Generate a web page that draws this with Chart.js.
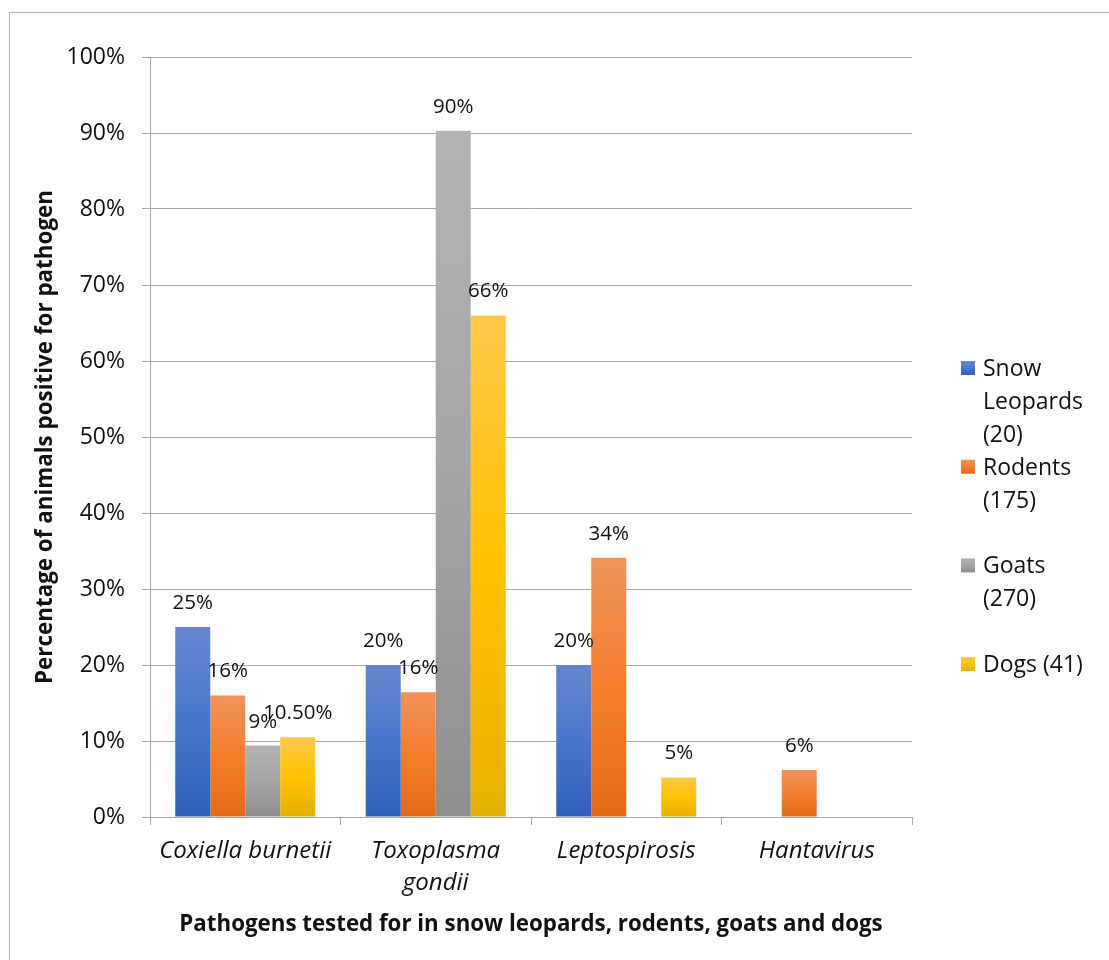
<!DOCTYPE html>
<html>
<head>
<meta charset="utf-8">
<script src="https://cdn.jsdelivr.net/npm/chart.js@4.4.1/dist/chart.umd.min.js"></script>
<style>
  html, body { margin: 0; padding: 0; background: #fff; }
  #wrap { width: 1109px; height: 960px; position: relative; }
</style>
</head>
<body>
<div id="wrap"><canvas id="pathogenChart" width="1109" height="960"></canvas></div>
<script>
// chart data
const categories = ['Coxiella burnetii', ['Toxoplasma', 'gondii'], 'Leptospirosis', 'Hantavirus'];
const seriesNames = ['Snow Leopards (20)', 'Rodents (175)', 'Goats (270)', 'Dogs (41)'];
const legendLines = [['Snow', 'Leopards', '(20)'], ['Rodents', '(175)'], ['Goats', '(270)'], ['Dogs (41)']];

const snowLeopards = [25, 20, 20, null];
const rodents = [16, 16.4, 34.1, 6.2];
const goats = [9.4, 90.3, null, null];
const dogs = [10.5, 66, 5.2, null];

const snowLeopardLabels = ['25%', '20%', '20%', null];
const rodentLabels = ['16%', '16%', '34%', '6%'];
const goatLabels = ['9%', '90%', null, null];
const dogLabels = ['10.50%', '66%', '5%', null];

const yTicks = [0, 10, 20, 30, 40, 50, 60, 70, 80, 90, 100];

// gradient stops (top -> bottom) for each series
const blueStops = ['#6687cf', '#4a77cc', '#2f5fbc'];
const orangeStops = ['#f0935e', '#f47e2c', '#e3691a'];
const grayStops = ['#b3b3b3', '#a5a5a5', '#8e8e8e'];
const goldStops = ['#ffc94a', '#ffc200', '#e4b000'];

const FONT = "'Open Sans', 'Noto Sans', sans-serif";
const GRID = '#a6a6a6';
const TEXT = '#111111';

function barGradient(c, stops) {
    const chart = c.chart;
    const v = c.raw;
    if (!chart.chartArea || v === null || v === undefined) return stops[1];
    const y = chart.scales.y;
    const top = y.getPixelForValue(v);
    const bottom = y.getPixelForValue(0);
    if (!isFinite(top) || bottom - top < 1) return stops[1];
    const g = chart.ctx.createLinearGradient(0, top, 0, bottom);
    g.addColorStop(0, stops[0]);
    g.addColorStop(0.5, stops[1]);
    g.addColorStop(1, stops[2]);
    return g;
}

function makeDataset(label, data, stops, valueLabels, legend) {
    return {
        label: label,
        data: data,
        backgroundColor: (c) => barGradient(c, stops),
        borderWidth: 0,
        valueLabels: valueLabels,
        legendLines: legend,
        legendColor: stops
    };
}

// frame round the whole picture
const framePlugin = {
    id: 'frame',
    beforeDraw(chart) {
        const ctx = chart.ctx;
        ctx.save();
        ctx.fillStyle = '#fff';
        ctx.fillRect(0, 0, chart.width, chart.height);
        ctx.strokeStyle = '#b4b4b4';
        ctx.lineWidth = 1;
        ctx.strokeRect(9.5, 12.5, chart.width + 20, chart.height + 20);
        ctx.restore();
    }
};

// value labels above bars
const valueLabelPlugin = {
    id: 'valueLabels',
    afterDatasetsDraw(chart) {
        const ctx = chart.ctx;
        ctx.save();
        ctx.font = '20.5px ' + FONT;
        ctx.fillStyle = TEXT;
        ctx.textAlign = 'center';
        ctx.textBaseline = 'alphabetic';
        chart.data.datasets.forEach((ds, i) => {
            const meta = chart.getDatasetMeta(i);
            meta.data.forEach((bar, j) => {
                const txt = ds.valueLabels[j];
                if (!txt) return;
                ctx.fillText(txt, bar.x, bar.y - 18);
            });
        });
        ctx.restore();
    }
};

// legend on the right with wrapped labels
const sideLegendPlugin = {
    id: 'sideLegend',
    afterDraw(chart) {
        const ctx = chart.ctx;
        const boxX = 961, textX = 983, firstTop = 361, step = 98.7, lineGap = 32.8, box = 14;
        ctx.save();
        ctx.font = '23px ' + FONT;
        ctx.fillStyle = TEXT;
        ctx.textAlign = 'left';
        ctx.textBaseline = 'alphabetic';
        chart.data.datasets.forEach((ds, i) => {
            const top = firstTop + i * step;
            const g = ctx.createLinearGradient(0, top, 0, top + box);
            g.addColorStop(0, ds.legendColor[0]);
            g.addColorStop(0.5, ds.legendColor[1]);
            g.addColorStop(1, ds.legendColor[2]);
            ctx.fillStyle = g;
            ctx.fillRect(boxX, top, box, box);
            ctx.fillStyle = TEXT;
            ds.legendLines.forEach((line, k) => {
                ctx.fillText(line, textX, top + box + 1 + k * lineGap);
            });
        });
        ctx.restore();
    }
};

const ctx = document.getElementById('pathogenChart').getContext('2d');

window.pathogenChart = new Chart(ctx, {
    type: 'bar',
    data: {
        labels: categories,
        datasets: [
            makeDataset(seriesNames[0], snowLeopards, blueStops, snowLeopardLabels, legendLines[0]),
            makeDataset(seriesNames[1], rodents, orangeStops, rodentLabels, legendLines[1]),
            makeDataset(seriesNames[2], goats, grayStops, goatLabels, legendLines[2]),
            makeDataset(seriesNames[3], dogs, goldStops, dogLabels, legendLines[3])
        ]
    },
    options: {
        responsive: false,
        animation: false,
        devicePixelRatio: 1,
        barPercentage: 1,
        categoryPercentage: 0.735,
        layout: {
            padding: { top: 57, right: 197, bottom: 0, left: 0 }
        },
        scales: {
            y: {
                min: 0,
                max: 100,
                afterFit: (scale) => { scale.width = 150; },
                afterBuildTicks: (scale) => { scale.ticks = yTicks.map(v => ({ value: v })); },
                ticks: {
                    callback: (v) => v + '%',
                    color: TEXT,
                    padding: 17,
                    font: { family: FONT, size: 23 }
                },
                grid: {
                    color: GRID,
                    lineWidth: 1,
                    drawTicks: true,
                    tickLength: 8
                },
                border: { display: true, color: GRID, width: 1 },
                title: {
                    display: true,
                    text: 'Percentage of animals positive for pathogen',
                    color: TEXT,
                    font: { family: FONT, size: 22.4, weight: 'bold' },
                    padding: { top: 32.5, bottom: 0 }
                }
            },
            x: {
                afterFit: (scale) => { scale.height = 960 - 817; },
                ticks: {
                    color: TEXT,
                    padding: 11,
                    maxRotation: 0,
                    autoSkip: false,
                    font: { family: FONT, size: 24, style: 'italic', lineHeight: 1.3 }
                },
                grid: {
                    color: GRID,
                    drawOnChartArea: false,
                    drawTicks: true,
                    tickLength: 8,
                    offset: true
                },
                border: { display: true, color: GRID, width: 1 },
                title: {
                    display: true,
                    text: 'Pathogens tested for in snow leopards, rodents, goats and dogs',
                    color: TEXT,
                    font: { family: FONT, size: 22.3, weight: 'bold' },
                    padding: { top: 0, bottom: 21.6 }
                }
            }
        },
        plugins: {
            legend: { display: false },
            tooltip: { enabled: false }
        }
    },
    plugins: [framePlugin, valueLabelPlugin, sideLegendPlugin]
});
</script>
</body>
</html>
